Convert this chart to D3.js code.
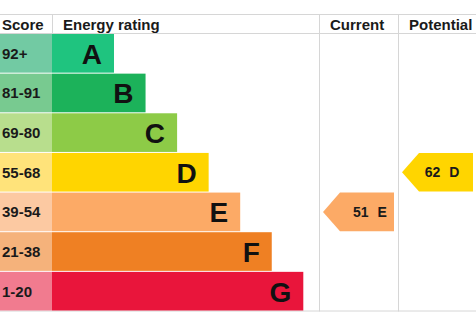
<!DOCTYPE html>
<html>
<head>
<meta charset="utf-8">
<script src="https://cdn.jsdelivr.net/npm/d3@7"></script>
<style>
  html, body { margin: 0; padding: 0; background: #fff; }
  svg { display: block; font-family: "Liberation Sans", Arial, sans-serif; }
</style>
</head>
<body>
<div id="chart"></div>
<script>
// ---- data ----
const ratings = ["A", "B", "C", "D", "E", "F", "G"];
const scoreRanges = ["92+", "81-91", "69-80", "55-68", "39-54", "21-38", "1-20"];
const columns = ["Current", "Potential"];
const currentScore = 51, currentRating = "E";
const potentialScore = 62, potentialRating = "D";

// ---- palette ----
const barColors = ["#1fc47f", "#1cb25a", "#8dcb47", "#ffd500", "#fcaa66", "#ef8023", "#e9153b"];
const scoreColors = ["#72caa3", "#78ca90", "#b8de8d", "#ffe37a", "#fcc9a2", "#f5b27b", "#f17b8f"];

const W = 476, H = 317;
const svg = d3.select("#chart").append("svg").attr("width", W).attr("height", H);

const headerTop = 14, headerBottom = 34, bottom = 310.5;
const scoreW = 52;

const y = d3.scaleBand().domain(ratings).range([headerBottom, bottom]).paddingInner(0.025).paddingOuter(0);
const barEnd = d3.scaleLinear().domain([0, ratings.length - 1]).range([114, 303.3]);
const col = d3.scaleBand().domain(columns).range([319, 477]);

const lineColor = "#d6d6d6";
const textColor = "#1a1a1a";

// grid lines
svg.append("line").attr("x1", 0).attr("x2", W).attr("y1", headerTop + 0.5).attr("y2", headerTop + 0.5).attr("stroke", lineColor);
svg.append("line").attr("x1", 0).attr("x2", W).attr("y1", headerBottom - 0.5).attr("y2", headerBottom - 0.5).attr("stroke", lineColor);
svg.append("line").attr("x1", 0).attr("x2", W).attr("y1", bottom + 0.5).attr("y2", bottom + 0.5).attr("stroke", lineColor);
svg.append("line").attr("x1", scoreW + 0.5).attr("x2", scoreW + 0.5).attr("y1", headerTop).attr("y2", headerBottom).attr("stroke", lineColor);
columns.forEach(c => {
  svg.append("line").attr("x1", col(c) + 0.5).attr("x2", col(c) + 0.5)
    .attr("y1", headerTop).attr("y2", bottom + 1).attr("stroke", lineColor);
});

// headers
const hdr = svg.append("g").attr("font-size", 15).attr("font-weight", "bold").attr("fill", textColor);
hdr.append("text").attr("x", 2).attr("y", 30).text("Score");
hdr.append("text").attr("x", 63).attr("y", 30).text("Energy rating");
columns.forEach(c => hdr.append("text").attr("x", col(c) + 11).attr("y", 30).text(c));

// rows
const rows = svg.append("g").selectAll("g").data(ratings).join("g")
  .attr("transform", d => `translate(0,${y(d)})`);

rows.append("rect").attr("x", 0).attr("width", scoreW).attr("height", y.bandwidth())
  .attr("fill", (d, i) => scoreColors[i]);
rows.append("rect").attr("x", scoreW).attr("width", (d, i) => barEnd(i) - scoreW).attr("height", y.bandwidth())
  .attr("fill", (d, i) => barColors[i]);
rows.append("text").attr("x", 2).attr("y", y.bandwidth() / 2 + 5.5)
  .attr("font-size", 15).attr("font-weight", "bold").attr("fill", textColor)
  .text((d, i) => scoreRanges[i]);
rows.append("text").attr("x", (d, i) => barEnd(i) - 12).attr("y", y.bandwidth() / 2 + 10.5)
  .attr("text-anchor", "end").attr("font-size", 28).attr("font-weight", "bold").attr("fill", "#111")
  .text(d => d);

// arrows
const arrows = [
  { column: "Current", score: currentScore, rating: currentRating, textCenter: 51 },
  { column: "Potential", score: potentialScore, rating: potentialRating, textCenter: 44 }
];
arrows.forEach(a => {
  const i = ratings.indexOf(a.rating);
  const x0 = col(a.column) + 4, x1 = x0 + 17, x2 = col(a.column) + 75;
  const t = y(a.rating), h = y.bandwidth();
  svg.append("path")
    .attr("d", `M${x0},${t + h / 2}L${x1},${t}L${x2},${t}L${x2},${t + h}L${x1},${t + h}Z`)
    .attr("fill", barColors[i]);
  const txt = svg.append("text").attr("x", col(a.column) + a.textCenter).attr("y", t + h / 2 + 5)
    .attr("text-anchor", "middle").attr("font-size", 14).attr("font-weight", "bold").attr("fill", textColor);
  txt.append("tspan").text(a.score);
  txt.append("tspan").attr("dx", 9).text(a.rating);
});
</script>
</body>
</html>
